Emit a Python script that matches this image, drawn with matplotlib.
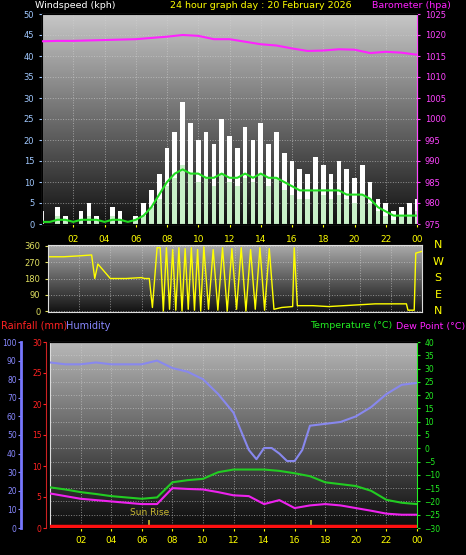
import numpy as np
import matplotlib
matplotlib.use("Agg")
import matplotlib.pyplot as plt

W, H = 466, 555
hours = [2,4,6,8,10,12,14,16,18,20,22,24]
hour_labels = ["02","04","06","08","10","12","14","16","18","20","22","00"]

gust = [3,0,4,2,0,3,5,2,0,4,3,0,2,5,8,12,18,22,29,24,20,22,19,25,21,18,23,20,24,19,22,17,15,13,12,16,14,12,15,13,11,14,10,6,5,3,4,5,6]
avg  = [1,0,2,1,0,1,2,1,0,2,1,0,1,2,4,6,9,11,14,12,10,11,9,12,10,9,11,10,12,9,11,8,7,6,6,8,7,6,7,6,5,7,5,3,2,1,2,2,3]
mean = [0.5,0.5,1,1,0.5,1,1,1,0.5,1,1,0.5,1,2,4,7,10,12,13,12,12,11,11,12,11,11,12,11,12,11,11,10,9,8,8,8,8,8,8,7,7,7,6,4,3,2,2,2,2]
baro = [1018.5,1018.6,1018.6,1018.7,1018.8,1018.9,1019,1019.3,1019.6,1020,1019.8,1019,1019,1018.4,1017.8,1017.5,1016.8,1016.2,1016.3,1016.6,1016.5,1015.7,1016,1015.8,1015.3]
dir_t = [0,1,2,2.8,3,3.2,4,5,6,6.2,6.5,6.7,7,7.2,7.4,7.6,7.8,8,8.2,8.4,8.6,8.8,9,9.2,9.4,9.6,9.8,10,10.3,10.6,10.9,11.2,11.5,11.8,12.1,12.4,12.7,13,13.3,13.6,13.9,14.2,14.5,15,15.7,15.8,16,17,18,19,20,21,22,23,23.1,23.5,23.6,24]
dir_v = [300,300,305,310,180,260,180,180,185,180,180,20,350,350,0,350,10,340,5,350,0,345,10,350,5,340,0,355,10,340,5,350,0,345,10,350,0,340,10,350,5,345,10,20,25,350,30,30,25,30,35,40,40,40,5,5,320,330]
hum_t = [0,1,2,3,4,5,6,7,8,9,10,11,12,12.5,13,13.5,14,14.5,15,15.5,16,16.5,17,18,19,20,21,22,23,24]
hum = [89,88,88,89,88,88,88,90,86,84,80,72,62,52,42,37,43,43,40,36,36,42,55,56,57,60,65,72,77,78]
temp = [-14.7,-15.5,-16.5,-17.2,-18,-18.5,-19,-18.5,-12.8,-12,-11.5,-9,-8,-8,-8,-8.5,-9.4,-10.5,-12.8,-13.5,-14.2,-16,-19.4,-20.5,-21]
dew = [-17,-18,-19,-19.5,-20,-20.5,-21,-21,-15,-15.3,-15.5,-16.5,-17.7,-18,-21,-19.5,-22.5,-21.5,-21,-21.5,-22.5,-23.5,-24.6,-25,-25]
rain = [0]*25
th = list(range(25))

fig = plt.figure(figsize=(W/100, H/100), dpi=100, facecolor="black")

def ax_px(l, t, r, b):
    return fig.add_axes([l/W, 1-b/H, (r-l)/W, (b-t)/H])

def bg(ax, top, bot):
    g = np.linspace(top, bot, 256)[:, None]
    ax.imshow(np.dstack([g, g, g]), extent=[0, 1, 0, 1], transform=ax.transAxes,
              aspect="auto", zorder=0, vmin=0, vmax=1)

def style(ax, color="#dddddd"):
    ax.set_facecolor("black")
    for s in ax.spines.values():
        s.set_color(color)
    ax.grid(True, color="#d0d0d0", linestyle=":", linewidth=0.7, alpha=0.6)
    ax.set_xlim(0, 24)
    ax.set_xticks(hours)

fs = 6.5
# --- top panel
ax1 = ax_px(42, 14, 417, 224)
bg(ax1, 0.78, 0.07)
style(ax1)
ax1.set_ylim(0, 50)
ax1.set_yticks(range(0, 51, 5))
t = np.arange(len(gust)) * 0.5
ax1.bar(t, gust, width=0.3, color="white", zorder=2)
ax1.bar(t, avg, width=0.3, color="#c8f0c8", zorder=3)
ax1.plot(t, mean, color="#22dd22", lw=1.5, zorder=4)
ax1.tick_params(axis="x", colors="yellow", labelsize=fs, length=2, pad=6)
ax1.set_xticklabels(hour_labels)
ax1b = ax1.twinx()
ax1b.set_ylim(975, 1025)
ax1b.set_yticks(range(975, 1026, 5))
ax1b.plot(th, baro, color="#ff22ff", lw=1.5, zorder=5)
ax1b.tick_params(axis="y", colors="#ff44ff", labelsize=6, length=2)
ax1b.spines["right"].set_color("#ff44ff")
ax1.tick_params(axis="y", colors="#a0c8ff", labelsize=6, length=2)
fig.text(35/W, 1-5/H, "Windspeed (kph)", color="white", fontsize=6.8, va="center")
fig.text(261/W, 1-5/H, "24 hour graph day : 20 February 2026", color="yellow", fontsize=6.8, va="center", ha="center")
fig.text(372/W, 1-5/H, "Barometer (hpa)", color="#ff22ff", fontsize=6.8, va="center")

# --- middle panel
ax2 = ax_px(48, 245, 422, 312)
bg(ax2, 0.68, 0.07)
style(ax2)
ax2.set_ylim(-5, 365)
ax2.set_yticks([0, 90, 180, 270, 360])
ax2.plot(dir_t, dir_v, color="yellow", lw=1)
ax2.tick_params(axis="y", colors="#e0e060", labelsize=6, length=2)
ax2.tick_params(axis="x", labelbottom=False, length=0)
for i, lab in enumerate(["N", "W", "S", "E", "N"]):
    fig.text(438/W, 1-(245 + i*16.5)/H, lab, color="yellow", fontsize=8, va="center", ha="center")

fig.text(1/W, 1-326/H, "Rainfall (mm)", color="#ff2222", fontsize=7, va="center")
fig.text(66/W, 1-326/H, "Humidity", color="#8888ff", fontsize=7, va="center")
fig.text(310/W, 1-326/H, "Temperature (°C)", color="#22ee22", fontsize=6.8, va="center")
fig.text(465/W, 1-326/H, "Dew Point (°C)", color="#ff22ff", fontsize=6.8, va="center", ha="right")

# --- bottom panel
ax3 = ax_px(50, 342, 417, 528)
bg(ax3, 0.72, 0.04)
style(ax3)
axh = ax3.twinx()
axr = ax3.twinx()
ax3.set_ylim(-30, 40)
ax3.set_yticks(range(-30, 41, 5))
ax3.yaxis.tick_right()
ax3.tick_params(axis="y", colors="#22ee22", labelsize=5.5, length=2)
ax3.spines["right"].set_color("#22ee22")
ax3.tick_params(axis="x", colors="yellow", labelsize=fs, length=2)
ax3.set_xticklabels(hour_labels)
ax3.plot(th, temp, color="#22cc22", lw=1.5, zorder=4)
ax3.plot(th, dew, color="#ee22ee", lw=1.5, zorder=4)
ax3.vlines([6.5, 17.1], -31, -27, color="#c8b830", lw=1.2, zorder=5)
ax3.text(6.5, -26, "Sun Rise", color="#c8b830", fontsize=6.5, ha="center", va="bottom", zorder=5)

axh.set_ylim(0, 100)
axh.plot(hum_t, hum, color="#8888ee", lw=1.5, zorder=3)
axh.yaxis.tick_left()
axh.spines["left"].set_position(("outward", 21))
axh.spines["left"].set_color("#7777ff")
axh.spines["left"].set_linewidth(2)
axh.spines["right"].set_visible(False)
axh.set_yticks(range(0, 101, 10))
axh.tick_params(axis="y", colors="#8888ff", labelsize=5.5, length=2, pad=1)

axr.set_ylim(0, 30)
axr.set_yticks([0, 5, 10, 15, 20, 25, 30])
axr.yaxis.tick_left()
axr.spines["left"].set_position(("outward", 3))
axr.spines["left"].set_color("#cc2222")
axr.spines["right"].set_visible(False)
axr.tick_params(axis="y", colors="#ff2222", labelsize=5.5, length=2, pad=1)
axr.plot(th, [r + 0.25 for r in rain], color="#ff1010", lw=2.5, zorder=6)
for a in (axh, axr, ax1b):
    a.set_xlim(0, 24)
    a.patch.set_visible(False)

fig.savefig("out.png", dpi=100, facecolor="black")
